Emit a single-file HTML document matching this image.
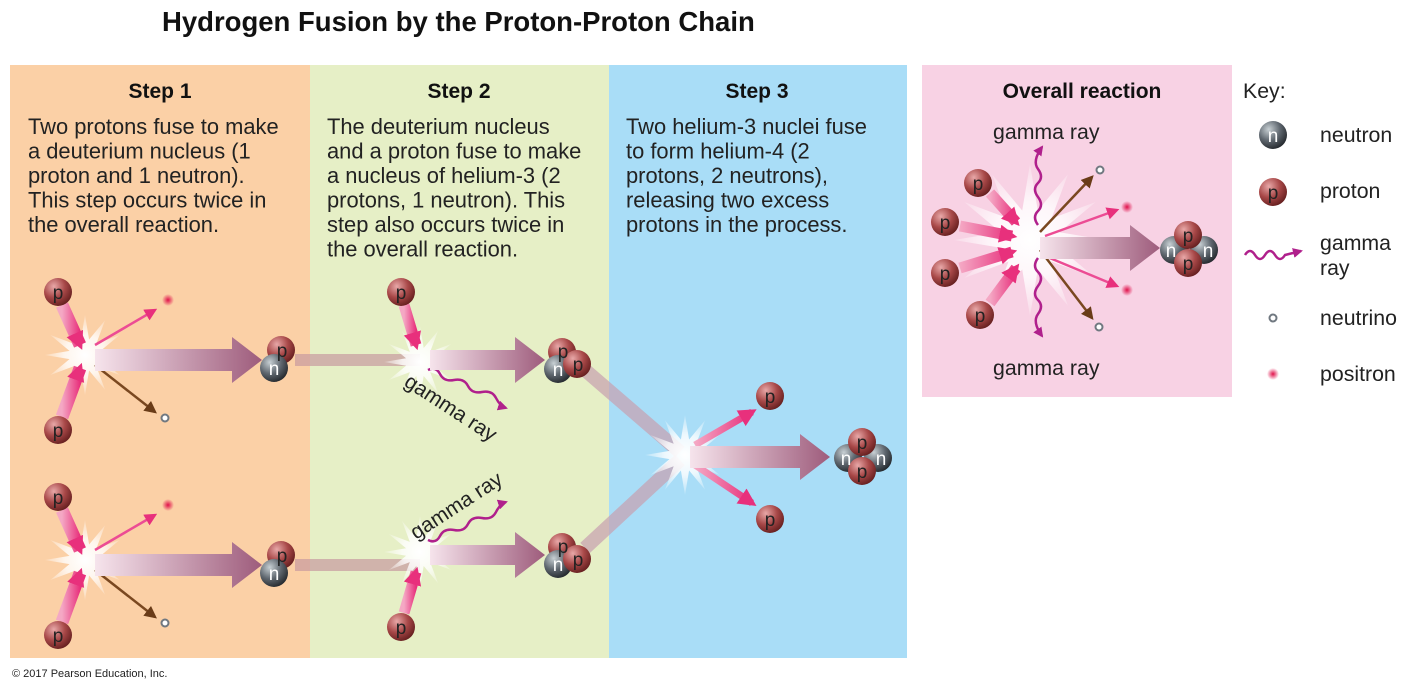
<!DOCTYPE html>
<html><head><meta charset="utf-8"><style>
body{margin:0;background:#fff}
svg{display:block;font-family:"Liberation Sans",Arial,sans-serif}
</style></head><body>
<svg width="1411" height="693" viewBox="0 0 1411 693" xmlns="http://www.w3.org/2000/svg">
<defs>
<radialGradient id="gp" cx="0.35" cy="0.3" r="0.8"><stop offset="0" stop-color="#e8a8a8"/><stop offset="0.5" stop-color="#a84848"/><stop offset="1" stop-color="#5a1818"/></radialGradient>
<radialGradient id="gn" cx="0.35" cy="0.3" r="0.8"><stop offset="0" stop-color="#c8d0d4"/><stop offset="0.5" stop-color="#606870"/><stop offset="1" stop-color="#1a1e22"/></radialGradient>
<radialGradient id="gb" cx="0.5" cy="0.5" r="0.5"><stop offset="0" stop-color="#fff"/><stop offset="0.5" stop-color="#fff" stop-opacity="0.8"/><stop offset="1" stop-color="#fff" stop-opacity="0.2"/></radialGradient>
<radialGradient id="gpos" cx="0.5" cy="0.5" r="0.5"><stop offset="0" stop-color="#e0104a"/><stop offset="1" stop-color="#e0104a" stop-opacity="0"/></radialGradient>
<linearGradient id="ga" x1="0" x2="1" y1="0" y2="0"><stop offset="0" stop-color="#f6e4ec"/><stop offset="1" stop-color="#9e5c7c"/></linearGradient>
<linearGradient id="gpk" x1="0" x2="1"><stop offset="0" stop-color="#f4a8c4"/><stop offset="1" stop-color="#e8307c"/></linearGradient>
<marker id="mp" viewBox="0 0 10 10" refX="8" refY="5" markerWidth="5" markerHeight="5" orient="auto"><path d="M0,0L10,5L0,10z" fill="#e8307c"/></marker>
<marker id="mb" viewBox="0 0 10 10" refX="8" refY="5" markerWidth="5" markerHeight="5" orient="auto"><path d="M0,0L10,5L0,10z" fill="#6a3c18"/></marker>
<marker id="mg" viewBox="0 0 10 10" refX="8" refY="5" markerWidth="4" markerHeight="4" orient="auto"><path d="M0,0L10,5L0,10z" fill="#b0208c"/></marker>
<marker id="mps" viewBox="0 0 10 10" refX="7" refY="5" markerUnits="userSpaceOnUse" markerWidth="18" markerHeight="20" orient="auto"><path d="M0,0L10,5L0,10z" fill="#e8307c"/></marker>
<polygon id="star" points="40,0 15.5,4.1 34.6,20 11.3,11.3 20,34.6 4.1,15.5 0,40 -4.1,15.5 -20,34.6 -11.3,11.3 -34.6,20 -15.5,4.1 -40,0 -15.5,-4.1 -34.6,-20 -11.3,-11.3 -20,-34.6 -4.1,-15.5 0,-40 4.1,-15.5 20,-34.6 11.3,-11.3 34.6,-20 15.5,-4.1" fill="url(#gb)"/>
<circle id="P" r="14" fill="url(#gp)"/>
<circle id="N" r="14" fill="url(#gn)"/>
<g id="nu"><circle r="3.5" fill="#fff" stroke="#707880" stroke-width="2"/></g>
<circle id="pos" r="6" fill="url(#gpos)"/>
</defs>
<text x="162" y="31" font-size="27.5" font-weight="bold" fill="#111">Hydrogen Fusion by the Proton-Proton Chain</text>
<rect x="10" y="65" width="300" height="593" fill="#fbd0a6"/>
<rect x="310" y="65" width="299" height="593" fill="#e6efc6"/>
<rect x="609" y="65" width="298" height="593" fill="#a9ddf7"/>
<rect x="922" y="65" width="310" height="332" fill="#f8d2e4"/>
<g font-size="21" font-weight="bold" text-anchor="middle" fill="#111">
<text x="160" y="98">Step 1</text><text x="459" y="98">Step 2</text><text x="757" y="98">Step 3</text><text x="1082" y="98">Overall reaction</text>
</g>
<g font-size="21.9" fill="#222">
<text x="28" y="134">Two protons fuse to make</text><text x="28" y="158.5">a deuterium nucleus (1</text><text x="28" y="183">proton and 1 neutron).</text><text x="28" y="207.5">This step occurs twice in</text><text x="28" y="232">the overall reaction.</text>
<text x="327" y="134">The deuterium nucleus</text><text x="327" y="158.5">and a proton fuse to make</text><text x="327" y="183">a nucleus of helium-3 (2</text><text x="327" y="207.5">protons, 1 neutron). This</text><text x="327" y="232">step also occurs twice in</text><text x="327" y="256.5">the overall reaction.</text>
<text x="626" y="134">Two helium-3 nuclei fuse</text><text x="626" y="158.5">to form helium-4 (2</text><text x="626" y="183">protons, 2 neutrons),</text><text x="626" y="207.5">releasing two excess</text><text x="626" y="232">protons in the process.</text>
</g>
<g font-size="21.3" fill="#222">
<text x="1243" y="98">Key:</text>
<text x="1320" y="142">neutron</text><text x="1320" y="198">proton</text><text x="1320" y="250">gamma</text><text x="1320" y="275">ray</text><text x="1320" y="325">neutrino</text><text x="1320" y="381">positron</text>
<text x="993" y="139">gamma ray</text><text x="993" y="375">gamma ray</text>
</g>

<g id="s1">
<line x1="295" y1="360" x2="420" y2="360" stroke="#c89aa0" stroke-width="12" opacity="0.7"/>
<use href="#star" transform="translate(85,355)"/>
<line x1="62" y1="305" x2="80" y2="345" stroke="url(#gpk)" stroke-width="13" marker-end="url(#mps)"/>
<line x1="62" y1="417" x2="80" y2="368" stroke="url(#gpk)" stroke-width="13" marker-end="url(#mps)"/>
<line x1="95" y1="345" x2="155" y2="310" stroke="#ec4c94" stroke-width="2.5" marker-end="url(#mp)"/>
<line x1="95" y1="365" x2="155" y2="412" stroke="#7a4820" stroke-width="2.5" marker-end="url(#mb)"/>
<use href="#pos" x="168" y="300"/><use href="#nu" x="165" y="418"/>
<polygon points="95,349 232,349 232,337 262,360 232,383 232,371 95,371" fill="url(#ga)"/>
<use href="#P" x="58" y="292"/><use href="#P" x="58" y="430"/>
<use href="#P" x="281" y="350"/><use href="#N" x="274" y="368"/>
</g>
<use href="#s1" y="205"/>
<g font-size="19" fill="#222" text-anchor="middle">
<text x="58" y="299">p</text><text x="58" y="437">p</text><text x="282" y="357">p</text><text x="274" y="375" fill="#fff">n</text>
<text x="58" y="504">p</text><text x="58" y="642">p</text><text x="282" y="562">p</text><text x="274" y="580" fill="#fff">n</text>
</g>

<line x1="585" y1="370" x2="680" y2="452" stroke="#c8a0b0" stroke-width="14" opacity="0.7"/>
<line x1="585" y1="548" x2="680" y2="460" stroke="#c8a0b0" stroke-width="14" opacity="0.7"/>

<use href="#star" transform="translate(420,362) scale(0.9)"/>
<line x1="404" y1="305" x2="416" y2="345" stroke="url(#gpk)" stroke-width="11" marker-end="url(#mps)"/>
<path d="M428,370 q8,-4 12,4 t14,6 t14,6 t14,6 t14,6 t10,10" fill="none" stroke="#b0208c" stroke-width="2.5" marker-end="url(#mg)"/>
<polygon points="430,350 515,350 515,337 545,360 515,383 515,370 430,370" fill="url(#ga)"/>
<use href="#P" x="401" y="292"/>
<use href="#P" x="562" y="352"/><use href="#N" x="558" y="369"/><use href="#P" x="577" y="364"/>
<use href="#star" transform="translate(420,552) scale(0.9)"/>
<line x1="404" y1="613" x2="416" y2="572" stroke="url(#gpk)" stroke-width="11" marker-end="url(#mps)"/>
<path d="M428,540 q8,4 12,-4 t14,-6 t14,-6 t14,-6 t14,-6 t10,-10" fill="none" stroke="#b0208c" stroke-width="2.5" marker-end="url(#mg)"/>
<polygon points="430,545 515,545 515,532 545,555 515,578 515,565 430,565" fill="url(#ga)"/>
<use href="#P" x="401" y="627"/>
<use href="#P" x="562" y="547"/><use href="#N" x="558" y="564"/><use href="#P" x="577" y="559"/>
<g font-size="19" fill="#222" text-anchor="middle">
<text x="401" y="299">p</text><text x="563" y="358">p</text><text x="578" y="371">p</text><text x="558" y="376" fill="#fff">n</text>
<text x="401" y="634">p</text><text x="563" y="553">p</text><text x="578" y="566">p</text><text x="558" y="571" fill="#fff">n</text>
</g>
<text x="0" y="0" font-size="21" fill="#222" transform="translate(403,385) rotate(33)">gamma ray</text>
<text x="0" y="0" font-size="21" fill="#222" transform="translate(416,540) rotate(-33)">gamma ray</text>

<use href="#star" transform="translate(685,455)"/>
<line x1="695" y1="445" x2="752" y2="412" stroke="url(#gpk)" stroke-width="7" marker-end="url(#mps)"/>
<line x1="695" y1="465" x2="752" y2="503" stroke="url(#gpk)" stroke-width="7" marker-end="url(#mps)"/>
<polygon points="690,446 800,446 800,434 830,457 800,480 800,468 690,468" fill="url(#ga)"/>
<use href="#P" x="770" y="396"/><use href="#P" x="770" y="519"/>
<use href="#N" x="848" y="458"/><use href="#N" x="878" y="458"/><use href="#P" x="862" y="442"/><use href="#P" x="862" y="471"/>
<g font-size="19" fill="#222" text-anchor="middle">
<text x="770" y="403">p</text><text x="770" y="526">p</text><text x="862" y="449">p</text><text x="862" y="478">p</text>
<text x="846" y="465" fill="#fff">n</text><text x="881" y="465" fill="#fff">n</text>
</g>

<use href="#star" transform="translate(1030,240) scale(1.9)"/>
<line x1="990" y1="193" x2="1016" y2="222" stroke="url(#gpk)" stroke-width="11" marker-end="url(#mps)"/>
<line x1="960" y1="226" x2="1012" y2="236" stroke="url(#gpk)" stroke-width="11" marker-end="url(#mps)"/>
<line x1="960" y1="268" x2="1012" y2="252" stroke="url(#gpk)" stroke-width="11" marker-end="url(#mps)"/>
<line x1="990" y1="303" x2="1016" y2="268" stroke="url(#gpk)" stroke-width="11" marker-end="url(#mps)"/>
<path d="M1038,225 q-6,-8 0,-14 t0,-14 t0,-14 t0,-14 t4,-22" fill="none" stroke="#b0208c" stroke-width="2.5" marker-end="url(#mg)"/>
<path d="M1038,258 q-6,8 0,14 t0,14 t0,14 t0,14 t4,22" fill="none" stroke="#b0208c" stroke-width="2.5" marker-end="url(#mg)"/>
<line x1="1040" y1="232" x2="1092" y2="177" stroke="#7a4820" stroke-width="2.5" marker-end="url(#mb)"/>
<line x1="1040" y1="250" x2="1092" y2="318" stroke="#7a4820" stroke-width="2.5" marker-end="url(#mb)"/>
<line x1="1045" y1="236" x2="1117" y2="210" stroke="#ec4c94" stroke-width="2.5" marker-end="url(#mp)"/>
<line x1="1045" y1="256" x2="1117" y2="286" stroke="#ec4c94" stroke-width="2.5" marker-end="url(#mp)"/>
<use href="#nu" x="1100" y="170"/><use href="#nu" x="1099" y="327"/>
<use href="#pos" x="1127" y="207"/><use href="#pos" x="1127" y="290"/>
<polygon points="1040,237 1130,237 1130,225 1160,248 1130,271 1130,259 1040,259" fill="url(#ga)"/>
<use href="#P" x="978" y="183"/><use href="#P" x="945" y="222"/><use href="#P" x="945" y="273"/><use href="#P" x="980" y="315"/>
<use href="#N" x="1174" y="250"/><use href="#N" x="1204" y="250"/><use href="#P" x="1188" y="235"/><use href="#P" x="1188" y="263"/>
<g font-size="19" fill="#222" text-anchor="middle">
<text x="978" y="190">p</text><text x="945" y="229">p</text><text x="945" y="280">p</text><text x="980" y="322">p</text>
<text x="1188" y="242">p</text><text x="1188" y="270">p</text><text x="1171" y="257" fill="#fff">n</text><text x="1208" y="257" fill="#fff">n</text>
</g>

<use href="#N" x="1273" y="135"/><use href="#P" x="1273" y="192"/>
<path d="M1245,255 q5,-8 10,0 t10,0 t10,0 t10,0 l16,-4" fill="none" stroke="#b0208c" stroke-width="2.5" marker-end="url(#mg)"/>
<use href="#nu" x="1273" y="318"/><use href="#pos" x="1273" y="374"/>
<g font-size="19" text-anchor="middle"><text x="1273" y="142" fill="#fff">n</text><text x="1273" y="199" fill="#222">p</text></g>

<text x="12" y="677" font-size="11" fill="#222">© 2017 Pearson Education, Inc.</text>
</svg>
</body></html>
